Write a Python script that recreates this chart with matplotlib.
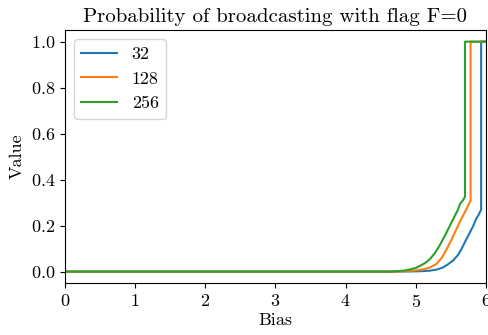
import matplotlib
matplotlib.use("Agg")
import matplotlib.pyplot as plt

plt.rcParams["font.family"] = ["cmr10", "DejaVu Serif"]
plt.rcParams["mathtext.fontset"] = "cm"
plt.rcParams["axes.formatter.use_mathtext"] = True
plt.rcParams["axes.unicode_minus"] = False

# readings: bias vs. broadcast probability, per size
x_32 = [0.0, 4.7, 4.9, 5.0, 5.1, 5.2, 5.3, 5.38, 5.45, 5.53, 5.6, 5.65,
        5.71, 5.77, 5.82, 5.86, 5.9, 5.93, 5.93, 6.0]
y_32 = [0.0, 0.0, 0.0005, 0.001, 0.002, 0.004, 0.009, 0.017, 0.03, 0.048, 0.072, 0.098,
        0.135, 0.17, 0.20, 0.23, 0.25, 0.27, 1.0, 1.0]

x_128 = [0.0, 4.7, 4.8, 4.9, 5.0, 5.1, 5.2, 5.29, 5.37, 5.44, 5.51, 5.58,
         5.64, 5.70, 5.75, 5.78, 5.78, 6.0]
y_128 = [0.0, 0.0, 0.001, 0.003, 0.005, 0.009, 0.018, 0.032, 0.06, 0.098, 0.14, 0.186,
         0.225, 0.26, 0.29, 0.31, 1.0, 1.0]

x_256 = [0.0, 4.65, 4.75, 4.85, 4.91, 5.0, 5.06, 5.13, 5.2, 5.27, 5.34, 5.42,
         5.51, 5.56, 5.60, 5.63, 5.67, 5.70, 5.70, 6.0]
y_256 = [0.0, 0.0, 0.002, 0.005, 0.009, 0.016, 0.025, 0.037, 0.054, 0.08, 0.114, 0.16,
         0.215, 0.245, 0.27, 0.295, 0.31, 0.325, 1.0, 1.0]

series = [("32", x_32, y_32), ("128", x_128, y_128), ("256", x_256, y_256)]

fig = plt.figure(figsize=(4.88, 3.35), dpi=100)
ax = fig.add_axes([0.133, 0.155, 0.863, 0.755])
for label, xs, ys in series:
    ax.plot(xs, ys, label=label, lw=1.5)

ax.set_xlim(0, 6)
ax.set_ylim(-0.05, 1.05)
ax.set_xticks([0, 1, 2, 3, 4, 5, 6])
ax.set_yticks([0.0, 0.2, 0.4, 0.6, 0.8, 1.0])
ax.tick_params(labelsize=13)
ax.set_xlabel("Bias", fontsize=13, labelpad=2)
ax.set_ylabel("Value", fontsize=13)
ax.set_title("Probability of broadcasting with flag F=0", fontsize=15)
ax.legend(loc="upper left", fontsize=13)

fig.savefig("out.png", dpi=100)
